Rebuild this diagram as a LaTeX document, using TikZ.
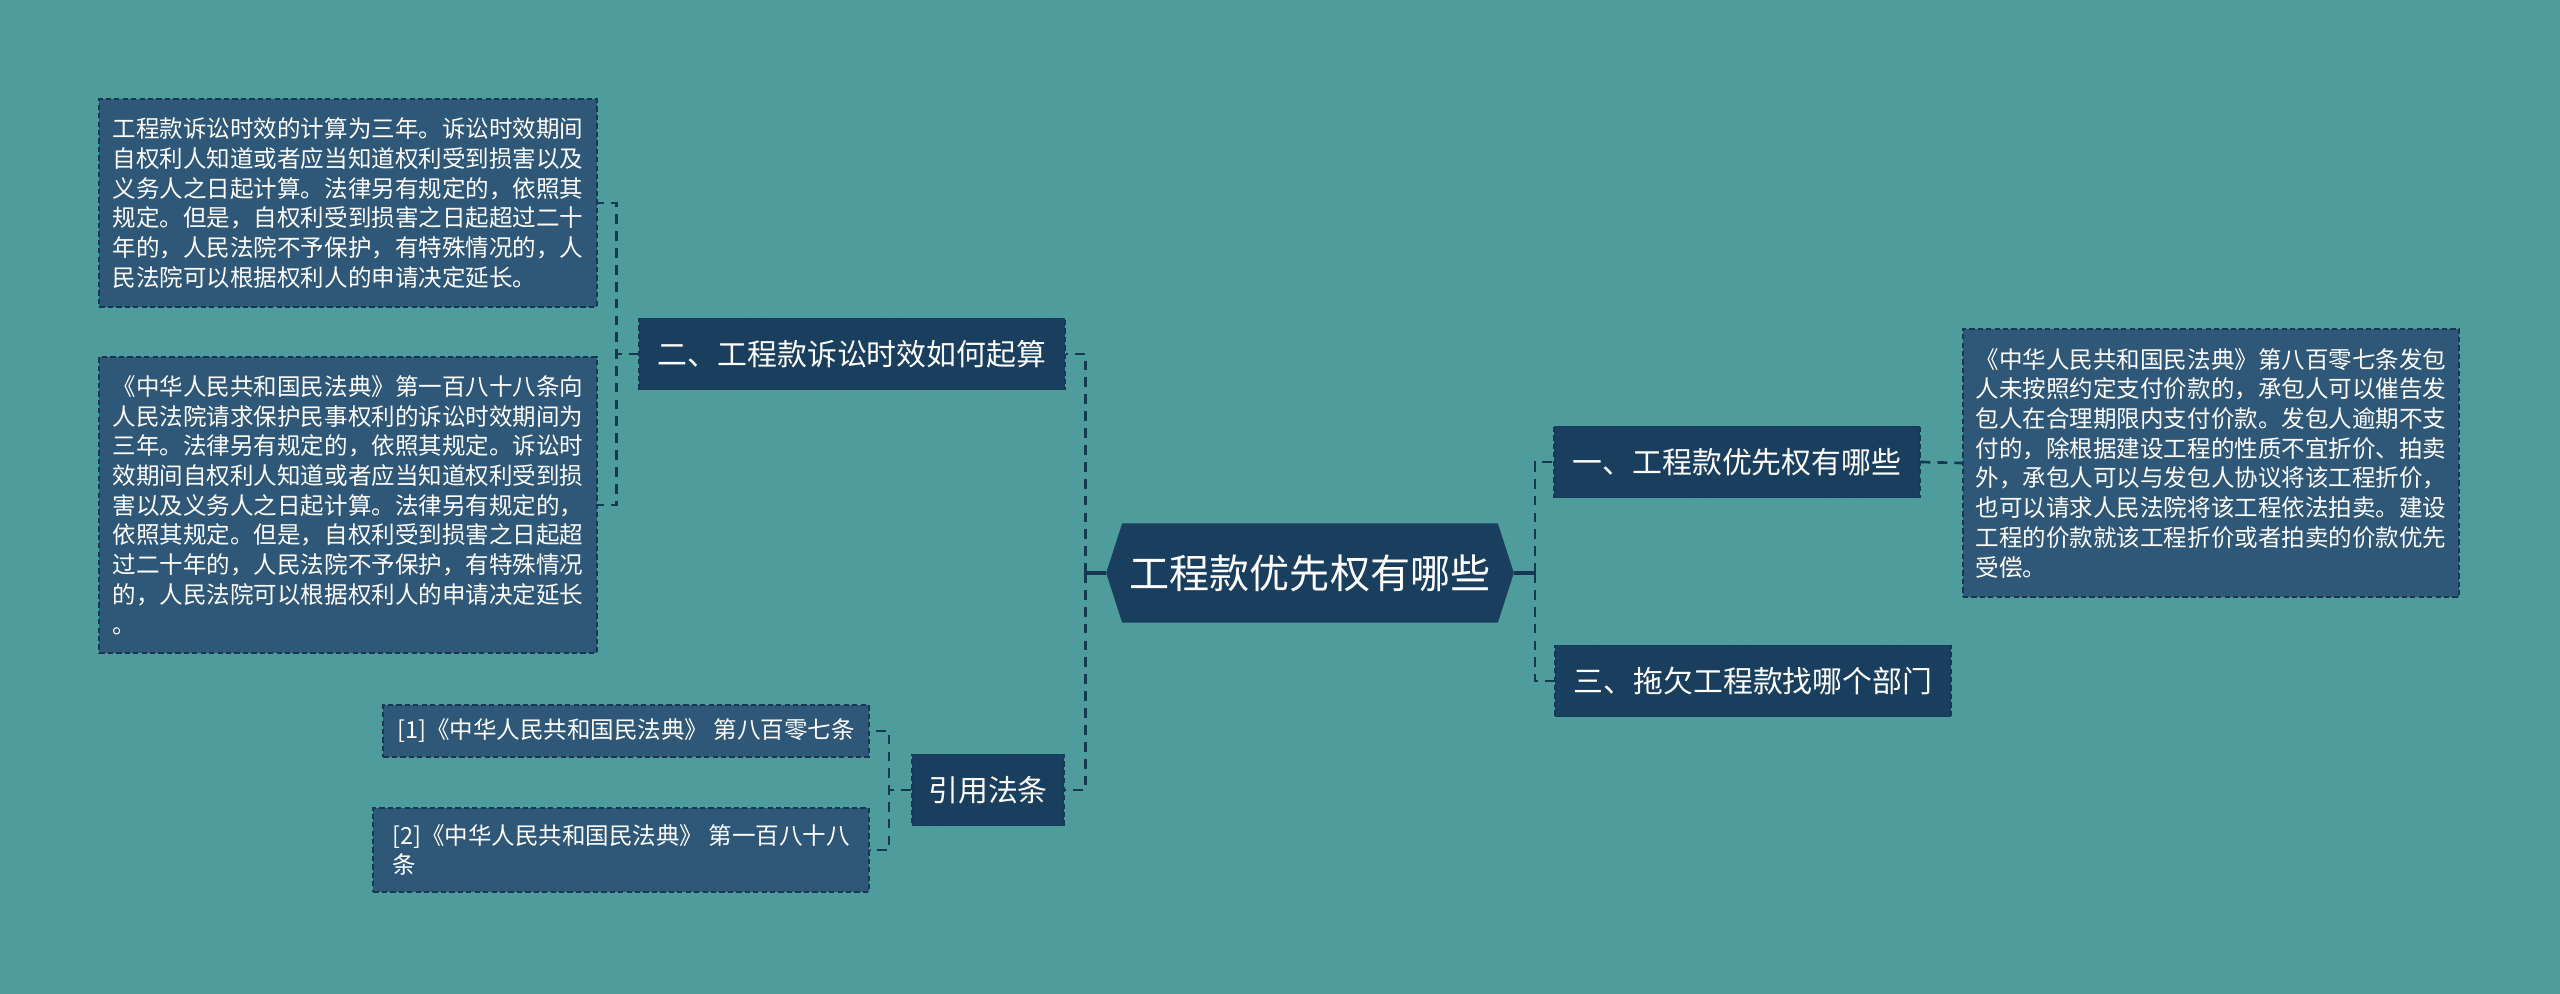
\documentclass[tikz,border=0pt]{standalone}
\usepackage{fontspec}
\setmainfont{Noto Sans CJK SC}
\definecolor{bgteal}{RGB}{78, 156, 155}
\definecolor{navy}{RGB}{26, 62, 94}
\definecolor{leafblue}{RGB}{47, 87, 120}
\definecolor{edge}{RGB}{22, 56, 84}
\usetikzlibrary{backgrounds}

\begin{document}
\begin{tikzpicture}[
    x=0.01cm, y=-0.01cm,
    leaf/.style={draw=edge, fill=leafblue, line width=0.55pt, dash pattern=on 1.5pt off 0.9pt, text=white, align=left, inner sep=0pt, font=\fontsize{6.69pt}{8.45pt}\selectfont},
    branch/.style={draw=edge, fill=navy, line width=0.55pt, dash pattern=on 1.5pt off 0.9pt, text=white, inner sep=0pt, minimum height=0.71cm, font=\fontsize{8.5pt}{10pt}\selectfont},
    rootnode/.style={text=white, inner sep=0pt, minimum width=3.74cm, minimum height=0.98cm, font=\fontsize{11.4pt}{13pt}\selectfont},
    link/.style={draw=edge, line width=0.75pt, dash pattern=on 2.8pt off 2pt},
    stub/.style={draw=edge, line width=0.9pt}
  ]
    \useasboundingbox (0,0) rectangle (2560,994);

    \node[rootnode] (root) at (1310,573) {工程款优先权有哪些};
    \path (root.west) ++(-16,0) coordinate (rootL);
    \path (root.east) ++(16,0) coordinate (rootR);

    \node[branch, minimum width=3.65cm] (yi) at (1737,462) {一、工程款优先权有哪些};
    \node[branch, minimum width=3.96cm] (san) at (1753,681) {三、拖欠工程款找哪个部门};
    \node[branch, minimum width=4.25cm] (er) at (852,354) {二、工程款诉讼时效如何起算};
    \node[branch, minimum width=1.52cm] (yinyong) at (988,790) {引用法条};

    \node[leaf, minimum width=4.96cm, minimum height=2.68cm] (youxian) at (2211,463) {《中华人民共和国民法典》第八百零七条发包\\人未按照约定支付价款的，承包人可以催告发\\包人在合理期限内支付价款。发包人逾期不支\\付的，除根据建设工程的性质不宜折价、拍卖\\外，承包人可以与发包人协议将该工程折价，\\也可以请求人民法院将该工程依法拍卖。建设\\工程的价款就该工程折价或者拍卖的价款优先\\受偿。};
    \node[leaf, minimum width=4.97cm, minimum height=2.07cm] (sanjian) at (348,203) {工程款诉讼时效的计算为三年。诉讼时效期间\\自权利人知道或者应当知道权利受到损害以及\\义务人之日起计算。法律另有规定的，依照其\\规定。但是，自权利受到损害之日起超过二十\\年的，人民法院不予保护，有特殊情况的，人\\民法院可以根据权利人的申请决定延长。};
    \node[leaf, minimum width=4.97cm, minimum height=2.96cm] (diyibai) at (348,505) {《中华人民共和国民法典》第一百八十八条向\\人民法院请求保护民事权利的诉讼时效期间为\\三年。法律另有规定的，依照其规定。诉讼时\\效期间自权利人知道或者应当知道权利受到损\\害以及义务人之日起计算。法律另有规定的，\\依照其规定。但是，自权利受到损害之日起超\\过二十年的，人民法院不予保护，有特殊情况\\的，人民法院可以根据权利人的申请决定延长\\。};
    \node[leaf, minimum width=4.85cm, minimum height=0.52cm] (cite1) at (626,731) {[1]《中华人民共和国民法典》 第八百零七条};
    \node[leaf, minimum width=4.95cm, minimum height=0.84cm] (cite2) at (621,850) {[2]《中华人民共和国民法典》 第一百八十八\\条};

    \begin{scope}[on background layer]
      \fill[bgteal] (0,0) rectangle (2560,994);
      \fill[navy] (root.north west) -- (root.north east) -- (rootR) -- (root.south east) -- (root.south west) -- (rootL) -- cycle;
    \end{scope}

    \path (rootL) ++(-21,0) coordinate (hubL);
    \path (rootR) ++(21,0) coordinate (hubR);
    \draw[stub] (rootL) -- (hubL);
    \draw[stub] (rootR) -- (hubR);
    \draw[link] (hubL) |- (er.east);
    \draw[link] (hubL) |- (yinyong.east);
    \draw[link] (hubR) |- (yi.west);
    \draw[link] (hubR) |- (san.west);
    \draw[link] (yi.east) -- (youxian.west);
    \draw[link] (er.west) -- ++(-22,0) |- (sanjian.east);
    \draw[link] (er.west) -- ++(-22,0) |- (diyibai.east);
    \draw[link] (yinyong.west) -- ++(-22,0) |- (cite1.east);
    \draw[link] (yinyong.west) -- ++(-22,0) |- (cite2.east);
  \end{tikzpicture}
\end{document}
